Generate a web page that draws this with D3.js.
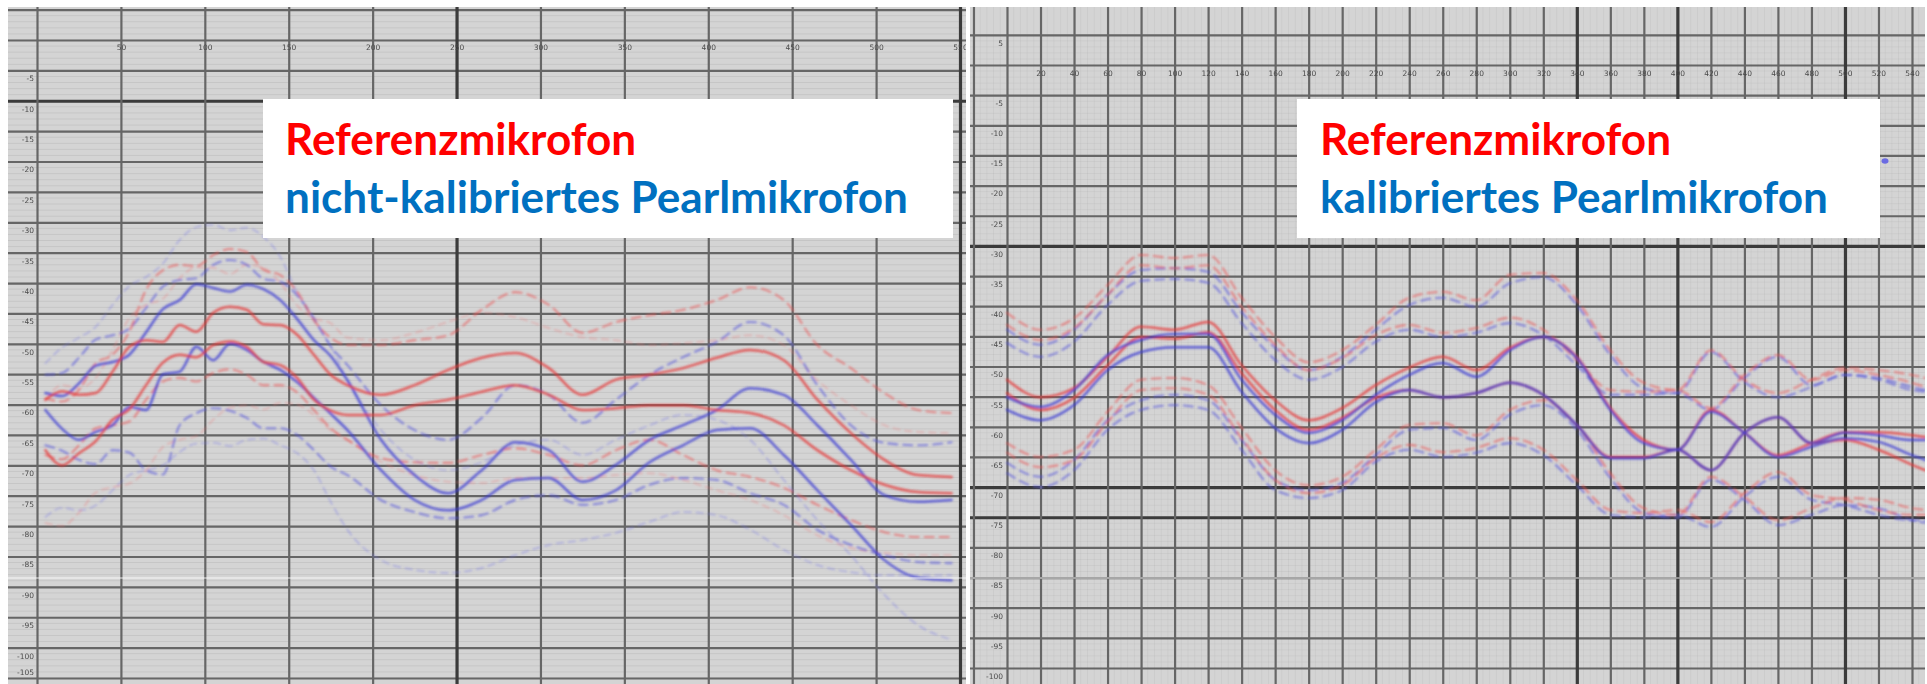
<!DOCTYPE html>
<html>
<head>
<meta charset="utf-8">
<script src="https://cdn.jsdelivr.net/npm/d3@7"></script>
<style>
  html, body { margin: 0; padding: 0; background: #ffffff; }
  svg { display: block; }
</style>
</head>
<body>
<svg id="chart" width="1927" height="684"></svg>
<script>
// ---------- Left panel: nicht-kalibriertes Pearlmikrofon ----------
const leftFreq = [5,15,25,35,45,55,65,75,85,95,105,115,125,135,145,155,165,175,185,205,225,245,265,285,305,325,345,365,385,405,425,445,465,485,505,525,545];
const leftXTicks = [0,50,100,150,200,250,300,350,400,450,500,550];
const leftYTicks = [5,0,-5,-10,-15,-20,-25,-30,-35,-40,-45,-50,-55,-60,-65,-70,-75,-80,-85,-90,-95,-100,-105];

const leftRedT1 = [-59.2,-56.8,-57.3,-55.6,-51.0,-45.8,-43.6,-42.6,-39.2,-37.4,-37.5,-38.5,-37.0,-37.5,-40.0,-43.7,-45.8,-46.6,-49.0,-49.4,-48.2,-46.4,-44.9,-45.6,-47.4,-48.9,-49.4,-50.2,-49.9,-49.4,-48.6,-50.2,-56.0,-60.1,-63.4,-64.5,-64.7];
const leftRedD1 = [-59.0,-59.5,-57.6,-53.2,-51.8,-48.0,-41.1,-37.9,-37.0,-37.2,-35.4,-34.4,-34.9,-37.8,-38.7,-41.4,-46.1,-49.0,-50.2,-50.2,-49.4,-48.6,-44.4,-41.5,-43.6,-48.2,-46.4,-45.3,-44.4,-42.8,-40.7,-42.8,-50.2,-54.0,-58.1,-60.9,-61.4];
const leftRedS1 = [-59.2,-57.8,-58.4,-58.1,-54.6,-50.5,-49.4,-49.7,-46.9,-48.0,-44.9,-43.9,-44.4,-46.8,-46.9,-48.5,-51.8,-55.1,-56.8,-58.4,-56.8,-54.3,-52.3,-51.5,-54.0,-58.4,-55.9,-55.1,-54.0,-52.3,-51.0,-52.7,-59.2,-64.7,-69.1,-71.6,-71.9];
const leftRedS2 = [-67.5,-70.0,-68.0,-66.0,-62.5,-60.8,-56.8,-53.1,-51.8,-52.2,-50.2,-49.6,-50.5,-53.0,-53.5,-55.6,-59.2,-61.0,-61.7,-61.7,-60.1,-59.2,-57.9,-56.8,-58.4,-60.9,-60.6,-60.1,-60.1,-60.9,-61.4,-63.4,-67.5,-70.8,-73.2,-74.4,-74.6];
const leftRedD2 = [-68.3,-69.0,-66.7,-63.9,-63.4,-62.8,-59.2,-56.2,-55.6,-56.2,-54.8,-54.2,-55.1,-56.8,-56.8,-58.0,-60.9,-63.9,-65.8,-68.8,-69.5,-69.6,-68.3,-67.2,-68.3,-70.0,-67.5,-65.8,-68.3,-70.8,-71.9,-73.7,-76.5,-79.0,-81.0,-81.8,-81.8];
const leftRedT2 = [-79.5,-80.0,-77.8,-74.5,-73.6,-73.0,-70.8,-67.0,-65.8,-65.2,-62.5,-60.5,-60.1,-60.8,-59.7,-60.0,-61.7,-64.2,-65.8,-69.4,-71.6,-72.7,-72.9,-72.1,-72.1,-72.1,-71.6,-71.3,-72.4,-74.1,-75.7,-78.2,-81.5,-83.6,-84.4,-84.8,-84.8];

const leftBlueT1 = [-53.2,-50.6,-49.0,-47.2,-43.6,-40.5,-39.0,-36.8,-32.9,-30.8,-30.4,-31.3,-30.9,-32.4,-35.7,-41.6,-46.1,-50.4,-56.0,-64.2,-69.1,-70.8,-69.5,-66.7,-65.8,-68.3,-65.8,-63.4,-61.7,-62.5,-65.8,-72.4,-79.0,-84.8,-91.3,-96.3,-98.7];
const leftBlueD1 = [-55.1,-54.8,-52.3,-49.3,-48.6,-47.5,-44.1,-40.6,-39.5,-39.2,-37.0,-36.2,-37.0,-39.3,-39.8,-42.0,-45.8,-50.4,-53.5,-60.1,-64.2,-65.8,-62.2,-56.8,-58.4,-63.0,-59.2,-55.1,-52.2,-49.7,-46.4,-48.6,-56.8,-63.4,-66.3,-66.7,-66.2];
const leftBlueS1 = [-58.1,-58.6,-56.5,-53.6,-53.0,-51.8,-48.1,-44.3,-42.8,-40.2,-40.8,-41.4,-40.3,-41.0,-42.8,-45.9,-49.4,-52.0,-56.0,-65.8,-71.6,-74.6,-70.8,-66.2,-67.5,-72.7,-69.9,-65.8,-63.4,-60.9,-57.3,-58.4,-63.4,-69.1,-74.9,-76.0,-75.7];
const leftBlueS2 = [-60.9,-64.0,-65.8,-64.5,-63.4,-60.4,-60.9,-55.0,-54.6,-50.5,-52.7,-50.0,-51.0,-53.0,-54.3,-56.3,-58.9,-61.5,-64.2,-70.8,-75.7,-77.4,-75.7,-72.4,-72.1,-75.7,-74.1,-69.5,-66.7,-64.2,-63.9,-68.3,-74.1,-79.8,-85.6,-88.5,-88.9];
const leftBlueD2 = [-66.7,-67.6,-69.1,-69.8,-67.5,-67.9,-70.8,-71.5,-63.4,-61.4,-60.6,-61.0,-62.2,-63.9,-63.9,-65.0,-67.5,-70.2,-71.6,-75.7,-77.7,-78.7,-78.2,-75.7,-74.9,-76.5,-75.7,-73.2,-72.1,-72.4,-74.6,-76.5,-80.6,-83.1,-84.8,-85.9,-86.1];
const leftBlueT2 = [-78.5,-77.0,-77.4,-76.6,-74.1,-71.6,-70.8,-70.0,-67.8,-66.4,-66.3,-66.8,-65.8,-65.6,-66.7,-68.0,-70.8,-76.0,-80.6,-85.6,-87.2,-87.7,-86.9,-84.8,-83.1,-82.3,-81.1,-79.3,-77.7,-78.2,-80.6,-83.9,-86.4,-87.6,-88.1,-88.1,-88.1];

// ---------- Right panel: kalibriertes Pearlmikrofon ----------
const rightFreq = [0,20,40,60,80,100,120,140,160,180,200,220,240,260,280,300,320,340,360,380,400,420,440,460,480,500,520,540,548];
const rightXTicks = [-20,0,20,40,60,80,100,120,140,160,180,200,220,240,260,280,300,320,340,360,380,400,420,440,460,480,500,520,540];
const rightYTicks = [5,0,-5,-10,-15,-20,-25,-30,-35,-40,-45,-50,-55,-60,-65,-70,-75,-80,-85,-90,-95,-100];

const rightRedD1u = [-41.1,-43.9,-42.0,-36.5,-31.5,-32.0,-31.5,-38.6,-45.1,-49.3,-47.3,-43.1,-38.6,-37.6,-39.0,-34.8,-34.5,-39.0,-47.3,-52.7,-53.9,-47.3,-52.2,-54.4,-52.2,-50.2,-50.6,-51.4,-51.9];
const rightRedD2u = [-43.1,-45.6,-43.6,-38.1,-33.2,-33.7,-33.2,-40.1,-46.4,-50.6,-48.6,-44.8,-43.1,-44.4,-43.6,-41.9,-43.9,-48.9,-53.9,-54.2,-53.9,-56.9,-51.4,-48.1,-52.2,-50.6,-51.4,-52.7,-53.4];
const rightRedS1 = [-52.2,-55.1,-53.6,-48.4,-43.4,-43.9,-42.6,-49.8,-55.6,-58.9,-56.9,-53.1,-50.2,-48.4,-50.6,-46.9,-45.1,-48.4,-56.9,-62.2,-63.8,-57.2,-61.0,-64.7,-62.7,-60.9,-60.9,-61.4,-61.7];
const rightRedS2 = [-54.4,-57.2,-55.2,-49.8,-45.1,-45.4,-44.3,-51.1,-57.2,-60.5,-58.5,-55.2,-53.9,-55.1,-54.4,-52.7,-54.7,-59.7,-65.0,-65.0,-63.8,-67.2,-61.0,-58.4,-62.7,-62.2,-63.8,-66.3,-67.2];
const rightRedD1l = [-62.7,-65.0,-63.8,-57.5,-52.2,-51.9,-53.1,-60.2,-67.2,-69.7,-68.3,-63.8,-59.7,-59.4,-61.4,-57.2,-55.6,-59.7,-67.7,-73.5,-74.6,-68.3,-71.6,-75.5,-73.5,-71.8,-72.1,-73.5,-73.8];
const rightRedD2l = [-64.3,-66.7,-65.5,-59.2,-53.9,-53.6,-54.7,-61.9,-68.8,-71.0,-69.7,-65.2,-63.0,-64.2,-63.5,-61.9,-63.8,-68.8,-73.8,-74.3,-73.8,-75.8,-71.0,-67.5,-71.3,-72.1,-73.8,-74.6,-74.6];

const rightBlueD1u = [-43.9,-46.4,-43.9,-38.1,-34.0,-33.7,-34.3,-41.0,-46.9,-50.6,-48.4,-43.9,-39.8,-38.6,-40.1,-36.2,-35.2,-39.8,-48.1,-53.6,-54.4,-47.6,-52.6,-55.1,-53.4,-51.4,-51.9,-53.4,-53.9];
const rightBlueD2u = [-46.1,-48.4,-45.9,-39.8,-35.8,-35.5,-36.1,-42.8,-48.9,-52.2,-50.1,-45.9,-43.9,-45.1,-44.4,-42.8,-44.8,-49.8,-54.7,-54.7,-54.4,-57.2,-51.9,-48.4,-53.1,-51.4,-52.2,-53.9,-54.2];
const rightBlueS1 = [-55.1,-56.7,-53.9,-48.1,-45.6,-44.6,-44.6,-52.2,-58.0,-61.0,-58.9,-54.7,-51.4,-49.4,-51.7,-47.3,-45.1,-48.6,-57.2,-62.7,-63.8,-57.5,-61.0,-65.0,-63.3,-61.9,-62.5,-64.7,-65.5];
const rightBlueS2 = [-57.2,-58.9,-56.4,-50.6,-47.6,-46.8,-46.8,-54.2,-60.2,-62.7,-60.5,-55.9,-53.9,-55.1,-54.4,-52.7,-54.7,-59.7,-65.2,-65.2,-63.8,-67.2,-61.0,-58.4,-62.7,-61.0,-61.4,-62.2,-62.2];
const rightBlueD1l = [-66.0,-68.3,-65.5,-58.9,-55.6,-54.7,-55.6,-62.2,-68.8,-70.5,-69.3,-64.7,-60.5,-60.2,-62.2,-58.0,-56.4,-60.5,-68.5,-74.3,-75.1,-68.8,-72.1,-76.3,-74.6,-73.0,-73.5,-75.5,-75.9];
const rightBlueD2l = [-67.7,-70.0,-67.2,-60.5,-57.2,-56.4,-57.2,-63.8,-70.5,-71.8,-70.5,-65.8,-63.8,-65.0,-64.3,-62.7,-64.7,-69.7,-74.6,-75.0,-74.6,-76.6,-71.6,-68.3,-72.1,-73.0,-74.6,-75.5,-75.5];

// Legend texts
const legendReference = "Referenzmikrofon";
const legendLeft = "nicht-kalibriertes Pearlmikrofon";
const legendRight = "kalibriertes Pearlmikrofon";

// ---------- drawing ----------
const svg = d3.select("#chart");
const defs = svg.append("defs");
defs.append("filter").attr("id", "soft").attr("x", "-2%").attr("y", "-2%").attr("width", "104%").attr("height", "104%")
  .append("feGaussianBlur").attr("stdDeviation", 0.75);
defs.append("filter").attr("id", "softLine").attr("x", "-2%").attr("y", "-2%").attr("width", "104%").attr("height", "104%")
  .append("feGaussianBlur").attr("stdDeviation", 0.95);
defs.append("filter").attr("id", "softText")
  .append("feGaussianBlur").attr("stdDeviation", 0.55);

const stroke = {
  red:  { solid: "rgba(230,60,60,0.78)",  dashed: "rgba(234,88,88,0.62)",  thin: "rgba(236,120,120,0.42)" },
  blue: { solid: "rgba(64,64,212,0.78)",  dashed: "rgba(86,86,220,0.62)",  thin: "rgba(118,118,230,0.45)" }
};
const lineStyle = {
  solid:  { width: 2.5, dash: null },
  dashed: { width: 2.1, dash: "9,6" },
  thin:   { width: 1.5, dash: "7,5" }
};

const panels = [
  {
    id: "left",
    box: { x: 8, y: 7, w: 958, h: 677 },
    xDomain: [0, 550], xRange: [37, 960],
    yDomain: [0, -105], yRange: [40, 678],
    xTicks: leftXTicks, yTicks: leftYTicks,
    xLabelY: 50, yLabelX: 34,
    thickX: [250, 550], thickY: [-10],
    freq: leftFreq,
    minorX: false, minorOpacity: 0.07,
    series: [
      { v: leftBlueT1, c: "blue", k: "thin" }, { v: leftBlueT2, c: "blue", k: "thin" },
      { v: leftRedT1, c: "red", k: "thin" },   { v: leftRedT2, c: "red", k: "thin" },
      { v: leftBlueD1, c: "blue", k: "dashed" }, { v: leftBlueD2, c: "blue", k: "dashed" },
      { v: leftRedD1, c: "red", k: "dashed" },   { v: leftRedD2, c: "red", k: "dashed" },
      { v: leftBlueS1, c: "blue", k: "solid" }, { v: leftBlueS2, c: "blue", k: "solid" },
      { v: leftRedS1, c: "red", k: "solid" },   { v: leftRedS2, c: "red", k: "solid" }
    ],
    legend: { x: 263, y: 99, w: 690, h: 139, tx: 285, lines: [legendReference, legendLeft], targetW: 623 }
  },
  {
    id: "right",
    box: { x: 970, y: 7, w: 955, h: 677 },
    xDomain: [0, 540], xRange: [1007, 1912],
    yDomain: [0, -100], yRange: [65, 668],
    xTicks: rightXTicks, yTicks: rightYTicks,
    xLabelY: 76, yLabelX: 1003,
    thickX: [340, 400, 500], thickY: [-30, -70, -75],
    freq: rightFreq,
    minorX: true, minorOpacity: 0.045,
    series: [
      { v: rightBlueD1u, c: "blue", k: "dashed" }, { v: rightBlueD2u, c: "blue", k: "dashed" },
      { v: rightBlueD1l, c: "blue", k: "dashed" }, { v: rightBlueD2l, c: "blue", k: "dashed" },
      { v: rightRedD1u, c: "red", k: "dashed" },   { v: rightRedD2u, c: "red", k: "dashed" },
      { v: rightRedD1l, c: "red", k: "dashed" },   { v: rightRedD2l, c: "red", k: "dashed" },
      { v: rightRedS1, c: "red", k: "solid" },     { v: rightRedS2, c: "red", k: "solid" },
      { v: rightBlueS1, c: "blue", k: "solid" },   { v: rightBlueS2, c: "blue", k: "solid" }
    ],
    legend: { x: 1297, y: 99, w: 583, h: 139, tx: 1320, lines: [legendReference, legendRight], targetW: 508 }
  }
];

panels.forEach(p => {
  const x = d3.scaleLinear().domain(p.xDomain).range(p.xRange);
  const y = d3.scaleLinear().domain(p.yDomain).range(p.yRange);
  const bottom = p.box.y + p.box.h;

  const clipId = "clip-" + p.id;
  defs.append("clipPath").attr("id", clipId)
    .append("rect").attr("x", p.box.x).attr("y", p.box.y).attr("width", p.box.w).attr("height", p.box.h);

  const g = svg.append("g").attr("clip-path", `url(#${clipId})`);
  g.append("rect").attr("x", p.box.x).attr("y", p.box.y).attr("width", p.box.w).attr("height", p.box.h)
    .attr("fill", "#d4d4d4");

  const grid = g.append("g").attr("filter", "url(#soft)");

  // fine graph-paper lines
  const yMinor = d3.range(p.yDomain[0] + 5, p.yDomain[1] - 1, -1);
  grid.append("g").selectAll("line").data(yMinor).join("line")
    .attr("x1", p.box.x).attr("x2", p.box.x + p.box.w)
    .attr("y1", d => y(d)).attr("y2", d => y(d))
    .attr("stroke", `rgba(0,0,0,${p.minorOpacity})`).attr("stroke-width", 1);
  if (p.minorX) {
    const xMinor = d3.range(-20, p.xDomain[1] + 10, 4);
    grid.append("g").selectAll("line").data(xMinor).join("line")
      .attr("x1", d => x(d)).attr("x2", d => x(d))
      .attr("y1", p.box.y).attr("y2", bottom)
      .attr("stroke", `rgba(0,0,0,${p.minorOpacity})`).attr("stroke-width", 1);
  }

  // major grid + labels from the axes
  const yAxis = d3.axisLeft(y).tickValues(p.yTicks).tickSize(-p.box.w)
    .tickFormat(d => (d === 0 || (d > 0 && p.id === "left")) ? "" : String(d));
  grid.append("g").attr("transform", `translate(${p.box.x},0)`).call(yAxis)
    .call(a => a.select(".domain").remove())
    .call(a => a.selectAll(".tick line")
      .attr("stroke", d => p.thickY.includes(d) ? "#3a3a3a" : "#666")
      .attr("stroke-width", d => p.thickY.includes(d) ? 3.2 : 2.2))
    .call(a => a.selectAll(".tick text")
      .attr("x", p.yLabelX - p.box.x).attr("dy", "0.32em")
      .attr("y", d => (y(d) + 11 > bottom) ? -6 : 8)
      .attr("fill", "#4a4a4a").attr("font-family", "DejaVu Sans, sans-serif").attr("font-size", 7.5)
      .attr("filter", "url(#softText)"));

  const xAxis = d3.axisTop(x).tickValues(p.xTicks).tickSize(-p.box.h)
    .tickFormat(d => d <= 0 ? "" : String(d));
  grid.append("g").attr("transform", `translate(0,${p.box.y})`).call(xAxis)
    .call(a => a.select(".domain").remove())
    .call(a => a.selectAll(".tick line")
      .attr("stroke", d => p.thickX.includes(d) ? "#3a3a3a" : "#666")
      .attr("stroke-width", d => p.thickX.includes(d) ? 3.2 : 2.2))
    .call(a => a.selectAll(".tick text")
      .attr("y", p.xLabelY - p.box.y).attr("dy", 0)
      .attr("fill", "#4a4a4a").attr("font-family", "DejaVu Sans, sans-serif").attr("font-size", 7.5)
      .attr("filter", "url(#softText)"));

  // curves
  const line = d3.line().x((d, i) => x(p.freq[i])).y(d => y(d)).curve(d3.curveMonotoneX);
  const curves = g.append("g").attr("filter", "url(#softLine)").attr("fill", "none");
  curves.selectAll("path").data(p.series).join("path")
    .attr("d", s => line(s.v))
    .attr("stroke", s => stroke[s.c][s.k])
    .attr("stroke-width", s => lineStyle[s.k].width)
    .attr("stroke-dasharray", s => lineStyle[s.k].dash)
    .attr("stroke-linejoin", "round").attr("stroke-linecap", "round");

  // faint scan line across the sheet
  g.append("line").attr("x1", p.box.x).attr("x2", p.box.x + p.box.w)
    .attr("y1", 578).attr("y2", 578).attr("stroke", "rgba(255,255,255,0.85)").attr("stroke-width", 1);

  // legend box
  const L = p.legend;
  svg.append("rect").attr("x", L.x).attr("y", L.y).attr("width", L.w).attr("height", L.h).attr("fill", "#ffffff");
  const colors = ["#ff0000", "#0070c0"];
  const baselines = [L.y + 56, L.y + 114];
  const texts = L.lines.map((t, i) => svg.append("text")
    .attr("x", L.tx).attr("y", baselines[i])
    .attr("fill", colors[i]).attr("font-family", "Lato, 'Open Sans', sans-serif")
    .attr("font-weight", 700).attr("font-size", 40).text(t));
  const w = texts[1].node().getComputedTextLength();
  const size = 40 * L.targetW / w;
  texts.forEach(t => t.attr("font-size", size));
});

// small marker in the right sheet
svg.append("ellipse").attr("cx", 1885).attr("cy", 161).attr("rx", 3.5).attr("ry", 2.8)
  .attr("fill", "rgba(90,90,230,0.85)").attr("filter", "url(#soft)");
</script>
</body>
</html>
